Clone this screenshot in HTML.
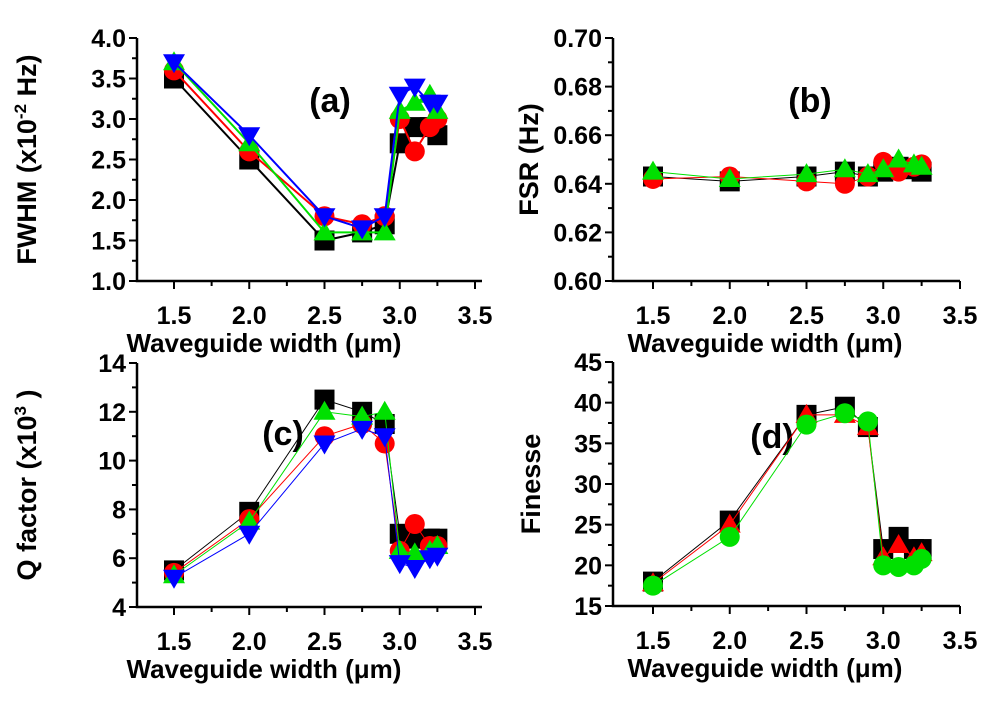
<!DOCTYPE html>
<html><head><meta charset="utf-8"><style>
html,body{margin:0;padding:0;background:#fff;}
svg{display:block;font-family:"Liberation Sans",Arial,sans-serif;font-weight:bold;}
</style></head><body>
<svg id="fig" width="1000" height="708" viewBox="0 0 1000 708" xmlns="http://www.w3.org/2000/svg"></svg>
<script>
const xVals=[1.5,2.0,2.5,2.75,2.9,3.0,3.1,3.2,3.25];
const xTicks=[1.5,2.0,2.5,3.0,3.5];
const xTickLabels=["1.5","2.0","2.5","3.0","3.5"];
const fwhmBlack=[3.5,2.5,1.5,1.6,1.7,2.7,2.9,2.9,2.8];
const fwhmRed=[3.6,2.6,1.8,1.7,1.8,3.0,2.6,2.9,3.0];
const fwhmGreen=[3.7,2.7,1.6,1.6,1.6,3.1,3.2,3.3,3.1];
const fwhmBlue=[3.7,2.8,1.8,1.65,1.8,3.3,3.4,3.2,3.2];
const fwhmTicks=["1.0","1.5","2.0","2.5","3.0","3.5","4.0"];
const fsrBlack=[0.643,0.641,0.643,0.645,0.643,0.645,0.647,0.646,0.645];
const fsrRed=[0.642,0.643,0.641,0.640,0.643,0.649,0.645,0.647,0.648];
const fsrGreen=[0.645,0.642,0.644,0.646,0.644,0.646,0.650,0.648,0.647];
const fsrTicks=["0.60","0.62","0.64","0.66","0.68","0.70"];
const qBlack=[5.5,7.9,12.5,12.0,11.5,7.0,6.8,6.8,6.8];
const qRed=[5.4,7.6,11.0,11.5,10.7,6.3,7.4,6.5,6.5];
const qGreen=[5.3,7.5,12.0,11.8,12.0,6.3,6.2,6.3,6.5];
const qBlue=[5.2,7.0,10.7,11.3,11.0,5.8,5.6,6.0,6.1];
const qTicks=["4","6","8","10","12","14"];
const finBlack=[18,25.5,38.5,39.5,37,22,23.5,22,22];
const finRed=[17.8,25,38.5,38.5,37,21,22.5,21,21.5];
const finGreen=[17.5,23.5,37.3,38.7,37.7,20,19.8,20,20.8];
const finTicks=["15","20","25","30","35","40","45"];

const NS="http://www.w3.org/2000/svg";
const svg=document.getElementById('fig');
function el(tag,attrs,parent){const e=document.createElementNS(NS,tag);for(const k in attrs)e.setAttribute(k,attrs[k]);(parent||svg).appendChild(e);return e;}

function panel(cfg){
  const g=el('g',{});
  
  
  const {L,R,T,B,x15,x35,ymin,ymax}=cfg;
  const sx=v=>x15+(v-1.5)*(x35-x15)/2;
  const sy=v=>B-(v-ymin)*(B-T)/(ymax-ymin);
  const ax=el('path',{d:`M${L} ${T} L${L} ${B} L${R} ${B}`,stroke:'#000','stroke-width':2.5,fill:'none'},g);
  
  
  const yt=cfg.yTicks.map(Number);
  yt.forEach((v,i)=>{
    el('line',{x1:L-8,x2:L,y1:sy(v),y2:sy(v),stroke:'#000','stroke-width':2},g);
    if(i<yt.length-1){const m=(v+yt[i+1])/2;el('line',{x1:L-5,x2:L,y1:sy(m),y2:sy(m),stroke:'#000','stroke-width':2},g);}
    const t=el('text',{x:L-11,y:sy(v)+9,'text-anchor':'end','font-size':25},g);
    t.textContent=cfg.yTicks[i];
    
    
  });
  xTicks.forEach((v,i)=>{
    el('line',{x1:sx(v),x2:sx(v),y1:B,y2:B+8,stroke:'#000','stroke-width':2},g);
    if(i<xTicks.length-1){const m=v+0.25;el('line',{x1:sx(m),x2:sx(m),y1:B,y2:B+5,stroke:'#000','stroke-width':2},g);}
    const t=el('text',{x:sx(v),y:B+43,'text-anchor':'middle','font-size':25},g);
    t.textContent=xTickLabels[i];
    
    
  });
  const xt=el('text',{x:cfg.xtx,y:B+71,'text-anchor':'middle','font-size':26},g);
  xt.textContent='Waveguide width (\u03bcm)';
  
  
  const yT=el('text',{transform:`translate(${cfg.ytx},${(T+B)/2}) rotate(-90)`,'text-anchor':'middle','font-size':27},g);
  yT.innerHTML=cfg.ytitle;
  
  
  const lb=el('text',{x:cfg.lx,y:cfg.ly,'text-anchor':'middle','font-size':34},g);
  lb.textContent=cfg.label;
  
  
  cfg.series.forEach(s=>{
    const sg=el('g',{},g);
    
    
    const pts=xVals.map((x,i)=>sx(x)+','+sy(s.data[i])).join(' ');
    el('polyline',{points:pts,fill:'none',stroke:s.color,'stroke-width':s.lw||1.5},sg);
    xVals.forEach((x,i)=>{
      const cx=sx(x),cy=sy(s.data[i]),r=10;let m;
      if(s.marker==='sq')m=el('rect',{x:cx-r,y:cy-r,width:2*r,height:2*r,fill:s.color},sg);
      else if(s.marker==='ci')m=el('circle',{cx:cx,cy:cy,r:r,fill:s.color},sg);
      else if(s.marker==='tu')m=el('polygon',{points:`${cx},${cy-r-1} ${cx-r-1},${cy+r-2} ${cx+r+1},${cy+r-2}`,fill:s.color},sg);
      else m=el('polygon',{points:`${cx},${cy+r+1} ${cx-r-1},${cy-r+2} ${cx+r+1},${cy-r+2}`,fill:s.color},sg);
      
      
    });
  });
}
const K='#000',Rd='#ff0000',G='#00e000',Bl='#0000ff';
panel({name:'panel-a-fwhm',L:137,R:482,T:38,B:281,x15:174,x35:475,ymin:1,ymax:4,yTicks:fwhmTicks,xtx:264,
  ytitle:'FWHM (x10<tspan dy="-10" font-size="17">-2</tspan><tspan dy="10"> Hz)</tspan>',ytx:36,label:'(a)',lx:330,ly:112,
  series:[{name:'series-black',data:fwhmBlack,color:K,marker:'sq',lw:2},{name:'series-red',data:fwhmRed,color:Rd,marker:'ci',lw:2},{name:'series-green',data:fwhmGreen,color:G,marker:'tu',lw:2},{name:'series-blue',data:fwhmBlue,color:Bl,marker:'td',lw:2}]});
panel({name:'panel-b-fsr',L:613,R:960,T:38,B:281,x15:653,x35:960,ymin:0.6,ymax:0.7,yTicks:fsrTicks,xtx:765,
  ytitle:'FSR (Hz)',ytx:538,label:'(b)',lx:810,ly:112,
  series:[{name:'series-black',data:fsrBlack,color:K,marker:'sq',lw:1},{name:'series-red',data:fsrRed,color:Rd,marker:'ci',lw:1},{name:'series-green',data:fsrGreen,color:G,marker:'tu',lw:1}]});
panel({name:'panel-c-q-factor',L:137,R:482,T:363,B:607,x15:174,x35:475,ymin:4,ymax:14,yTicks:qTicks,xtx:264,
  ytitle:'Q factor (x10<tspan dy="-10" font-size="17">3</tspan><tspan dy="10"> )</tspan>',ytx:36,label:'(c)',lx:283,ly:445,
  series:[{name:'series-black',data:qBlack,color:K,marker:'sq',lw:1},{name:'series-red',data:qRed,color:Rd,marker:'ci',lw:1},{name:'series-green',data:qGreen,color:G,marker:'tu',lw:1},{name:'series-blue',data:qBlue,color:Bl,marker:'td',lw:1}]});
panel({name:'panel-d-finesse',L:613,R:960,T:362,B:606,x15:653,x35:960,ymin:15,ymax:45,yTicks:finTicks,xtx:765,
  ytitle:'Finesse',ytx:540,label:'(d)',lx:772,ly:448,
  series:[{name:'series-black',data:finBlack,color:K,marker:'sq',lw:1},{name:'series-red',data:finRed,color:Rd,marker:'tu',lw:1},{name:'series-green',data:finGreen,color:G,marker:'ci',lw:1}]});
</script>
</body></html>
